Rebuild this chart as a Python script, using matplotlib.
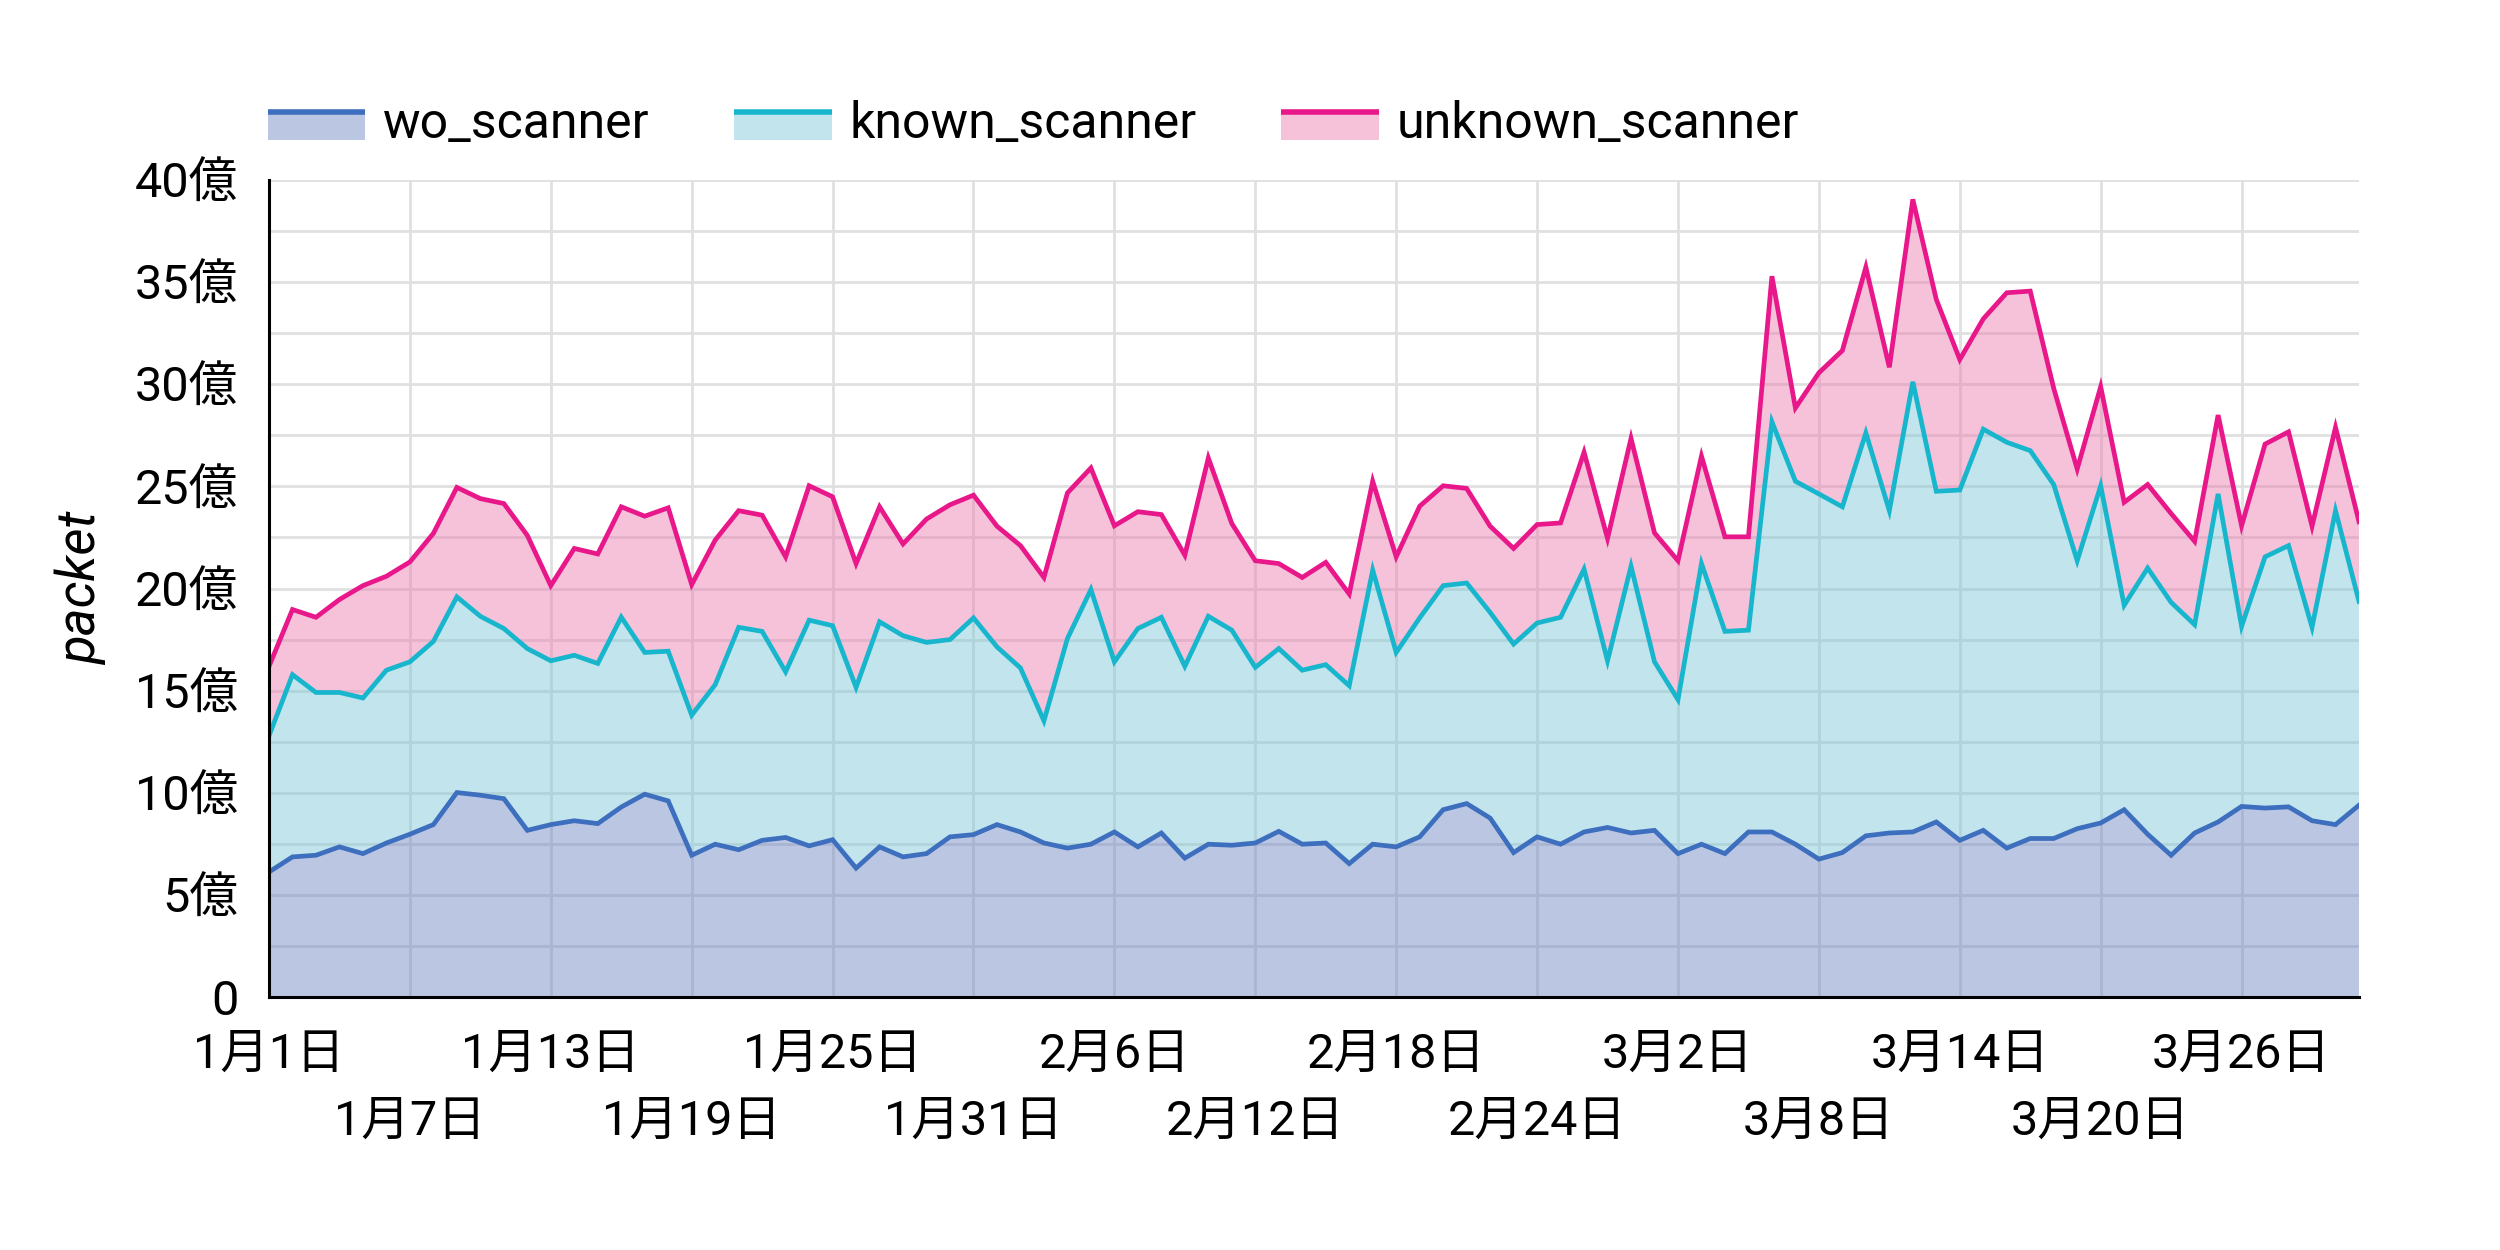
import matplotlib
matplotlib.use("Agg")
import matplotlib.pyplot as plt
import numpy as np
import pandas as pd
from matplotlib.legend_handler import HandlerBase
from matplotlib.patches import Patch, Rectangle
from matplotlib.lines import Line2D
from matplotlib.ticker import MultipleLocator, FixedLocator, FuncFormatter

plt.rcParams['font.family'] = ['Roboto', 'Noto Sans CJK JP', 'DejaVu Sans']

# daily packet counts in units of 億 (1e8), 2019-01-01 .. 2019-03-31
days = pd.date_range("2019-01-01", periods=90, freq="D")

wo_scanner = [
    6.12, 6.86, 6.94, 7.35, 7.02, 7.54, 7.97, 8.44, 10.01, 9.88,
    9.71, 8.16, 8.44, 8.63, 8.49, 9.30, 9.93, 9.60, 6.94, 7.48,
    7.21, 7.67, 7.81, 7.40, 7.70, 6.31, 7.35, 6.86, 7.02, 7.84,
    7.95, 8.44, 8.08, 7.54, 7.29, 7.48, 8.08, 7.35, 8.03, 6.80,
    7.48, 7.43, 7.54, 8.11, 7.48, 7.54, 6.53, 7.48, 7.35, 7.84,
    9.17, 9.47, 8.76, 7.07, 7.84, 7.48, 8.08, 8.30, 8.03, 8.16,
    7.02, 7.48, 7.02, 8.08, 8.08, 7.48, 6.75, 7.07, 7.89, 8.03,
    8.08, 8.57, 7.67, 8.16, 7.29, 7.76, 7.76, 8.24, 8.52, 9.17,
    7.97, 6.94, 8.03, 8.57, 9.33, 9.25, 9.31, 8.63, 8.44, 9.39,
]
known_scanner = [
    6.67, 8.92, 7.97, 7.56, 7.62, 8.46, 8.44, 8.97, 9.58, 8.76,
    8.33, 8.90, 8.02, 8.10, 7.84, 9.30, 6.94, 7.33, 6.86, 7.81,
    10.89, 10.23, 8.11, 11.05, 10.48, 8.85, 11.02, 10.83, 10.34, 9.66,
    10.61, 8.70, 8.03, 5.98, 10.26, 12.47, 8.33, 10.69, 10.56, 9.39,
    11.16, 10.53, 8.60, 8.95, 8.52, 8.73, 8.71, 13.42, 9.52, 10.72,
    10.97, 10.80, 10.07, 10.21, 10.47, 11.11, 12.87, 8.16, 13.06, 8.25,
    7.54, 13.74, 10.88, 9.88, 20.08, 17.77, 17.88, 16.93, 19.73, 15.78,
    22.04, 16.19, 17.15, 19.64, 19.87, 18.99, 17.33, 13.12, 16.51, 10.01,
    13.03, 12.38, 10.20, 16.06, 8.82, 12.30, 12.79, 9.47, 15.37, 9.98,
]
unknown_scanner = [
    3.40, 3.19, 3.68, 4.55, 5.50, 4.60, 4.89, 5.29, 5.36, 5.76,
    6.12, 5.54, 3.68, 5.23, 5.36, 5.40, 6.67, 7.02, 6.39, 7.08,
    5.71, 5.69, 5.63, 6.58, 6.31, 6.06, 5.63, 4.49, 6.04, 6.60,
    6.01, 5.91, 5.99, 7.02, 7.13, 5.95, 6.66, 5.72, 5.03, 5.44,
    7.75, 5.22, 5.22, 4.16, 4.54, 5.01, 4.49, 4.35, 4.68, 5.47,
    4.89, 4.63, 4.22, 4.68, 4.82, 4.62, 5.72, 5.99, 6.26, 6.31,
    6.80, 5.26, 4.63, 4.57, 7.13, 3.59, 5.93, 7.65, 8.11, 7.02,
    8.93, 9.39, 6.39, 5.40, 7.32, 7.81, 4.71, 4.49, 4.85, 5.04,
    4.09, 4.35, 4.08, 3.86, 4.92, 5.52, 5.57, 4.95, 4.08, 3.90,
]

names = ["wo_scanner", "known_scanner", "unknown_scanner"]
line_colors = ["#3d6fbe", "#17b6cd", "#e8178a"]
fill_colors = ["#6881c1", "#78c4d5", "#e978ad"]
fill_alpha = 0.45


class TopLineHandler(HandlerBase):
    # legend key: light box with a coloured line along its top
    def create_artists(self, legend, orig_handle, xd, yd, width, height, fontsize, trans):
        box = Rectangle((xd, yd), width, height, facecolor=orig_handle.get_facecolor(),
                        edgecolor="none", transform=trans)
        top = Line2D([xd, xd + width], [yd + height - 1.5, yd + height - 1.5],
                     color=orig_handle.get_edgecolor(), lw=4, solid_capstyle="butt",
                     transform=trans)
        return [box, top]


fig = plt.figure(figsize=(25, 12.5), dpi=100)
ax = fig.add_axes([0.1076, 0.2024, 0.8360, 0.6536])

x = np.arange(len(days))
series = np.array([wo_scanner, known_scanner, unknown_scanner])
ax.stackplot(x, series, colors=fill_colors, alpha=fill_alpha, linewidth=0)
cum = np.cumsum(series, axis=0)
for row, c in zip(cum, line_colors):
    ax.plot(x, row, color=c, lw=3.4, solid_joinstyle="miter")

ax.set_xlim(0, len(days) - 1)
ax.set_ylim(0, 40)

# y axis
ax.yaxis.set_major_locator(MultipleLocator(5))
ax.yaxis.set_minor_locator(MultipleLocator(2.5))
ax.yaxis.set_major_formatter(FuncFormatter(lambda v, p: "0" if v == 0 else f"{int(v)}億"))
ax.set_ylabel("packet", fontsize=38, style="italic", labelpad=20)

# x axis: two rows of date labels
major_idx = list(range(0, len(days), 12))
minor_idx = list(range(6, len(days), 12))
lab = [f"{d.month}月{d.day}日" for d in days]
ax.xaxis.set_major_locator(FixedLocator(major_idx))
ax.xaxis.set_minor_locator(FixedLocator(minor_idx))
ax.set_xticklabels([lab[i] for i in major_idx])
ax.set_xticklabels([lab[i] for i in minor_idx], minor=True)

ax.tick_params(axis="both", which="both", length=0, labelsize=35)
ax.tick_params(axis="x", which="major", pad=25)
ax.tick_params(axis="x", which="minor", pad=73)
ax.tick_params(axis="y", which="both", pad=22)

ax.set_axisbelow(True)
ax.grid(True, which="both", color="#e0e0e0", lw=2)

for s in ["top", "right"]:
    ax.spines[s].set_visible(False)
for s in ["left", "bottom"]:
    ax.spines[s].set_linewidth(2.2)
    ax.spines[s].set_color("black")
    ax.spines[s].set_zorder(5)

handles = [Patch(facecolor=matplotlib.colors.to_rgba(fc, fill_alpha), edgecolor=lc)
           for fc, lc in zip(fill_colors, line_colors)]
fig.legend(handles, names, loc="lower left", bbox_to_anchor=(0.107, 0.882),
           bbox_transform=fig.transFigure, ncol=3, frameon=False, fontsize=36,
           handler_map={Patch: TopLineHandler()}, handlelength=1.95, handleheight=0.56,
           handletextpad=0.35, columnspacing=1.7, borderpad=0, borderaxespad=0)

fig.savefig("out.png", dpi=100, facecolor="white")
